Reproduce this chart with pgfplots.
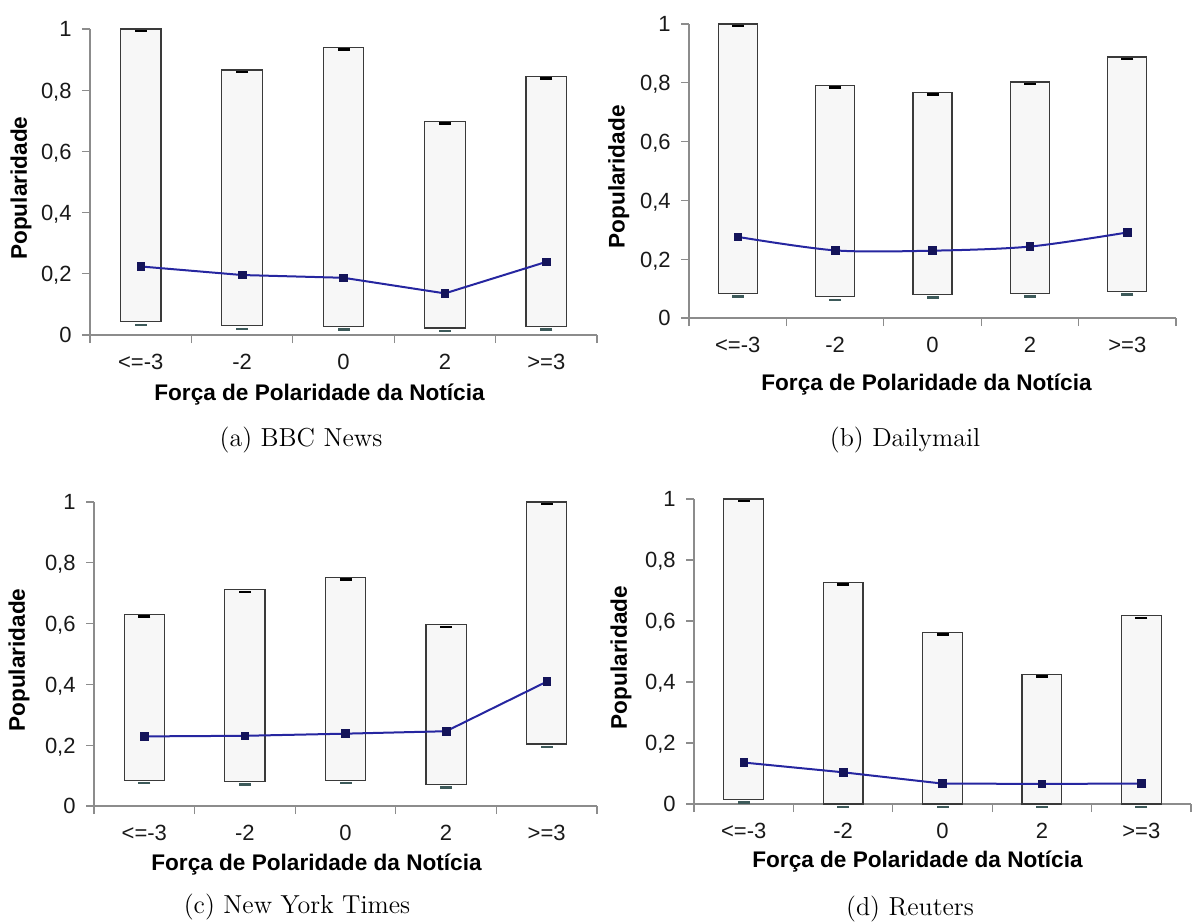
\documentclass[border=0pt]{standalone}
\usepackage{pgfplots}
\usepackage{pgfplotstable}
\pgfplotsset{compat=1.18}
\usepackage{fontspec}
\newfontfamily\arialf{Liberation Sans}
\definecolor{barfill}{HTML}{F7F7F7}
\definecolor{baredge}{HTML}{3A3A3A}
\definecolor{axgray}{HTML}{8C8C8C}
\definecolor{meanline}{HTML}{2626A0}
\definecolor{meanmark}{HTML}{14145A}
\definecolor{lowdash}{HTML}{3D5A5A}

\pgfplotstableread{
x min max mean
0 0.043 1.000 0.224
1 0.030 0.866 0.196
2 0.027 0.939 0.187
3 0.023 0.697 0.136
4 0.027 0.844 0.239
}\bbc
\pgfplotstableread{
x min max mean
0 0.083 1.000 0.276
1 0.072 0.790 0.230
2 0.079 0.768 0.229
3 0.083 0.803 0.243
4 0.091 0.888 0.291
}\dmail
\pgfplotstableread{
x min max mean
0 0.085 0.630 0.229
1 0.080 0.711 0.231
2 0.085 0.751 0.238
3 0.070 0.596 0.246
4 0.204 1.000 0.409
}\nyt
\pgfplotstableread{
x min max mean
0 0.014 1.000 0.136
1 0.000 0.726 0.104
2 0.000 0.563 0.067
3 0.000 0.424 0.066
4 0.000 0.617 0.067
}\reut

\pgfplotsset{
  popstyle/.style={
    scale only axis,
    ybar stacked, bar width=0.4,
    xmin=-0.5, xmax=4.5, ymin=0, ymax=1,
    axis x line*=bottom, axis y line*=left,
    axis line style={draw=axgray, line width=0.6pt, -},
    tick align=outside,
    major tick length=4pt,
    tick style={draw=axgray, line width=0.6pt},
    xtick={-0.5,0.5,1.5,2.5,3.5,4.5}, xticklabels={},
    extra x ticks={0,1,2,3,4},
    extra x tick labels={<=-3,-2,0,2,>=3},
    extra x tick style={tick style={draw=none}},
    ytick={0,0.2,0.4,0.6,0.8,1},
    yticklabels={0,{0,2},{0,4},{0,6},{0,8},1},
    tick label style={font=\arialf\fontsize{11}{13}\selectfont, text=black!90},
    xticklabel style={anchor=base, inner sep=0pt, yshift=-13pt},
    yticklabel style={anchor=base east, inner sep=0pt, xshift=-5pt, yshift=-3.9pt},
    label style={font=\arialf\bfseries\fontsize{11.3}{13}\selectfont},
    xlabel={Força de Polaridade da Notícia},
    ylabel={Popularidade},
    clip=false,
  },
  overstyle/.style={
    scale only axis, hide axis, clip=false,
    xmin=-0.5, xmax=4.5, ymin=0, ymax=1,
  },
  lowbar/.style={draw=none, fill=none},
  rangebar/.style={draw=baredge, fill=barfill, line width=0.6pt},
  topdash/.style={only marks, mark=-, mark size=3pt,
    mark options={draw=black, line width=1.3pt, yshift=-1pt}},
  botdash/.style={only marks, mark=-, mark size=3pt,
    mark options={draw=lowdash, line width=1.3pt, yshift=-1.5pt}},
  meanplot/.style={sharp plot, draw=meanline, line width=1pt,
    mark=square*, mark size=1.9pt, mark options={fill=meanmark, draw=meanmark, line width=0.4pt}},
}

\begin{document}
\begin{tikzpicture}
\useasboundingbox (0,0) rectangle (596pt,-461pt);

% (a) BBC News
\begin{axis}[popstyle, at={(45pt,-167.5pt)}, anchor=south west,
  width=253.5pt, height=153pt,
  xlabel style={at={(axis description cs:0.5,0)}, anchor=base, xshift=-12pt, yshift=-32.5pt},
  ylabel style={at={(axis description cs:-0.136,0.48)}, anchor=center}]
\addplot[lowbar] table[x=x, y=min] {\bbc};
\addplot[rangebar] table[x=x, y expr=\thisrow{max}-\thisrow{min}] {\bbc};
\end{axis}
\begin{axis}[overstyle, at={(45pt,-167.5pt)}, anchor=south west,
  width=253.5pt, height=153pt]
\addplot[topdash] table[x=x, y=max] {\bbc};
\addplot[botdash] table[x=x, y=min] {\bbc};
\addplot[meanplot] table[x=x, y=mean] {\bbc};
\end{axis}

% (b) Dailymail
\begin{axis}[popstyle, at={(344.5pt,-159pt)}, anchor=south west,
  width=243.5pt, height=147pt,
  xlabel style={at={(axis description cs:0.5,0)}, anchor=base, xshift=-3pt, yshift=-36pt},
  ylabel style={at={(axis description cs:-0.144,0.48)}, anchor=center}]
\addplot[lowbar] table[x=x, y=min] {\dmail};
\addplot[rangebar] table[x=x, y expr=\thisrow{max}-\thisrow{min}] {\dmail};
\end{axis}
\begin{axis}[overstyle, at={(344.5pt,-159pt)}, anchor=south west,
  width=243.5pt, height=147pt]
\addplot[topdash] table[x=x, y=max] {\dmail};
\addplot[botdash] table[x=x, y=min] {\dmail};
\addplot[meanplot, smooth] table[x=x, y=mean] {\dmail};
\end{axis}

% (c) New York Times
\begin{axis}[popstyle, at={(47pt,-403pt)}, anchor=south west,
  width=251.5pt, height=152pt,
  xlabel style={at={(axis description cs:0.5,0)}, anchor=base, xshift=-14.5pt, yshift=-32pt},
  ylabel style={at={(axis description cs:-0.149,0.48)}, anchor=center}]
\addplot[lowbar] table[x=x, y=min] {\nyt};
\addplot[rangebar] table[x=x, y expr=\thisrow{max}-\thisrow{min}] {\nyt};
\end{axis}
\begin{axis}[overstyle, at={(47pt,-403pt)}, anchor=south west,
  width=251.5pt, height=152pt]
\addplot[topdash] table[x=x, y=max] {\nyt};
\addplot[botdash] table[x=x, y=min] {\nyt};
\addplot[meanplot] table[x=x, y=mean] {\nyt};
\end{axis}

% (d) Reuters
\begin{axis}[popstyle, at={(347pt,-402pt)}, anchor=south west,
  width=248.5pt, height=152.5pt,
  xlabel style={at={(axis description cs:0.5,0)}, anchor=base, xshift=-12.5pt, yshift=-31.5pt},
  ylabel style={at={(axis description cs:-0.147,0.48)}, anchor=center}]
\addplot[lowbar] table[x=x, y=min] {\reut};
\addplot[rangebar] table[x=x, y expr=\thisrow{max}-\thisrow{min}] {\reut};
\end{axis}
\begin{axis}[overstyle, at={(347pt,-402pt)}, anchor=south west,
  width=248.5pt, height=152.5pt]
\addplot[topdash] table[x=x, y=max] {\reut};
\addplot[botdash] table[x=x, y=min] {\reut};
\addplot[meanplot] table[x=x, y=mean] {\reut};
\end{axis}

\node[font=\fontsize{13}{15.6}\selectfont] at (150.5pt,-220pt) {(a) BBC News};
\node[font=\fontsize{13}{15.6}\selectfont] at (452.5pt,-220pt) {(b) Dailymail};
\node[font=\fontsize{13}{15.6}\selectfont] at (148.5pt,-453.5pt) {(c) New York Times};
\node[font=\fontsize{13}{15.6}\selectfont] at (455pt,-454.5pt) {(d) Reuters};
\end{tikzpicture}
\end{document}
